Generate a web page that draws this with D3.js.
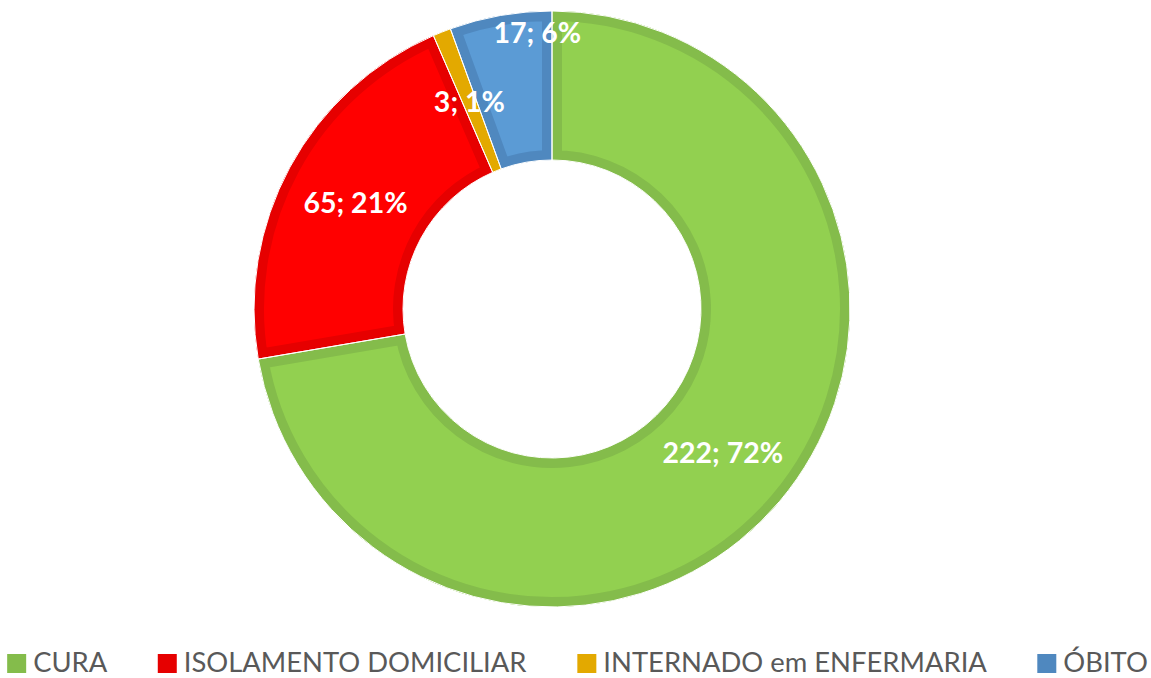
<!DOCTYPE html>
<html>
<head>
<meta charset="utf-8">
<script src="https://cdn.jsdelivr.net/npm/d3@7"></script>
<style>
  body { margin: 0; background: #fff; }
  svg { display: block; }
</style>
</head>
<body>
<svg id="chart"></svg>
<script>
  let categories = ["CURA", "ISOLAMENTO DOMICILIAR", "INTERNADO em ENFERMARIA", "ÓBITO"];
  let values = [222, 65, 3, 17];
  let percents = ["72%", "21%", "1%", "6%"];
  let fills = ["#92D050", "#FF0000", "#E9AE00", "#5B9BD5"];
  let borders = ["#84BC4B", "#E60000", "#E3A900", "#4F88BF"];

  let width = 1151;
  let height = 678;
  let cx = 552, cy = 309;
  let outerR = 298, innerR = 149;

  let svg = d3.select("#chart")
    .attr("width", width)
    .attr("height", height);

  let slices = values.map(function (v, i) {
    return {"id": i, "name": categories[i], "value": v, "pct": percents[i]};
  });

  let pie = d3.pie()
    .value(function (d) { return d.value; })
    .sort(null);

  let arc = d3.arc()
    .innerRadius(innerR)
    .outerRadius(outerR);

  let arcs = pie(slices);

  let defs = svg.append("defs");
  defs.selectAll("clipPath")
    .data(arcs)
    .enter()
    .append("clipPath")
    .attr("id", function (d) { return "clip" + d.data.id; })
    .append("path")
    .attr("d", arc);

  let g = svg.append("g")
    .attr("transform", "translate(" + cx + "," + cy + ")");

  // fill
  g.selectAll("path.fill")
    .data(arcs)
    .enter()
    .append("path")
    .attr("class", "fill")
    .attr("d", arc)
    .style("fill", function (d) { return fills[d.data.id]; });

  // darker border drawn inside the slice only
  g.selectAll("path.edge")
    .data(arcs)
    .enter()
    .append("path")
    .attr("class", "edge")
    .attr("d", arc)
    .attr("clip-path", function (d) { return "url(#clip" + d.data.id + ")"; })
    .style("fill", "none")
    .style("stroke", function (d) { return borders[d.data.id]; })
    .style("stroke-width", 20);

  // thin white separators
  g.selectAll("path.sep")
    .data(arcs)
    .enter()
    .append("path")
    .attr("class", "sep")
    .attr("d", arc)
    .style("fill", "none")
    .style("stroke", "#fff")
    .style("stroke-width", 1);

  // data labels (ÓBITO label was pushed up by the original layout)
  let nudge = {3: [24, -56]};
  g.selectAll("text.lbl")
    .data(arcs)
    .enter()
    .append("text")
    .attr("class", "lbl")
    .attr("x", function (d) {
      let n = nudge[d.data.id] || [0, 0];
      return arc.centroid(d)[0] + n[0];
    })
    .attr("y", function (d) {
      let n = nudge[d.data.id] || [0, 0];
      return arc.centroid(d)[1] + n[1];
    })
    .attr("dy", "0.36em")
    .attr("text-anchor", "middle")
    .style("font-family", "Lato, 'Open Sans', sans-serif")
    .style("font-weight", "bold")
    .style("font-size", "28.5px")
    .style("fill", "#fff")
    .text(function (d) { return d.data.value + "; " + d.data.pct; });

  // legend
  let legend = svg.append("g").attr("class", "legend");
  let items = legend.selectAll("g")
    .data(slices)
    .enter()
    .append("g");

  items.append("rect")
    .attr("width", 19)
    .attr("height", 19)
    .attr("y", -18)
    .style("fill", function (d) { return borders[d.id]; });

  items.append("text")
    .attr("x", 26)
    .style("font-family", "Lato, 'Open Sans', sans-serif")
    .style("font-size", "27.4px")
    .style("fill", "#595959")
    .text(function (d) { return d.name; });

  let gap = 50;
  let pos = 0;
  let offsets = [];
  items.each(function () {
    offsets.push(pos);
    pos += this.getBBox().width + gap;
  });
  let total = pos - gap;
  let startX = (width - total) / 2 + 2;
  items.attr("transform", function (d, i) {
    return "translate(" + (startX + offsets[i]) + ",672)";
  });
</script>
</body>
</html>
